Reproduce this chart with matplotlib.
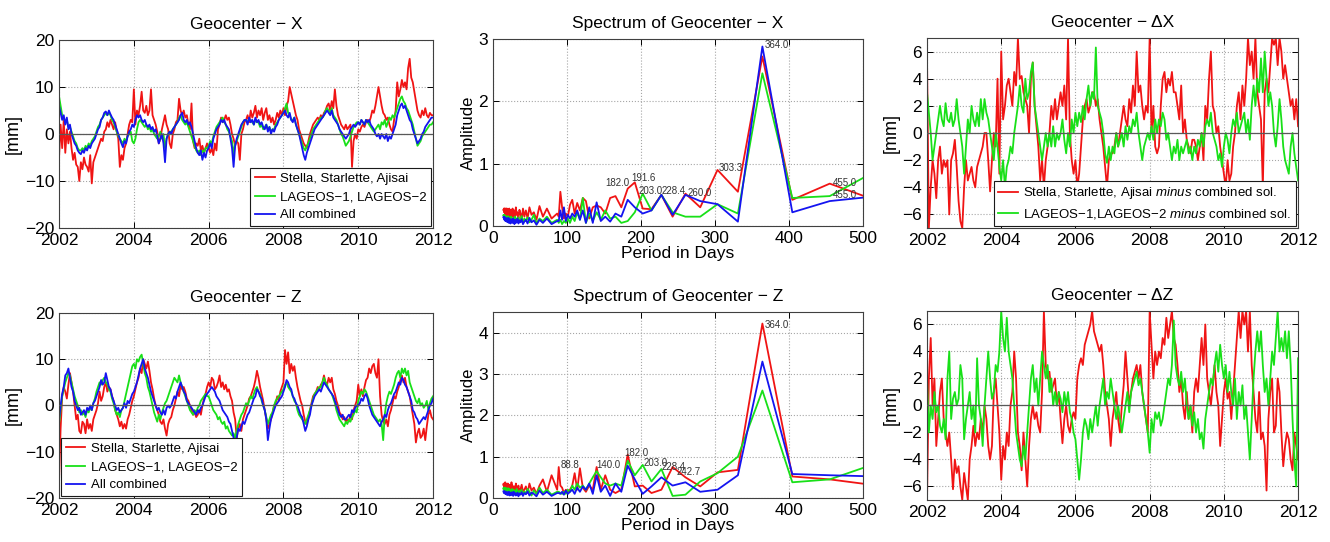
import numpy as np
import matplotlib
matplotlib.use("Agg")
import matplotlib.pyplot as plt

plt.rcParams['font.family'] = ['Liberation Sans', 'DejaVu Sans']
plt.rcParams['mathtext.fontset'] = 'custom'
plt.rcParams['mathtext.rm'] = 'Liberation Sans'
plt.rcParams['mathtext.it'] = 'Liberation Sans:italic'

RED, GREEN, BLUE = '#f01414', '#18e018', '#1414f0'

# %% geocenter X, 2 samples per month, 2002.0 .. 2012.0 [mm]
x_stella = [
    -5.0, 2.0, -3.0, 3.0, -4.0, 1.0, -2.0, 0.5, -3.0, -5.5, -4.0, -6.5, -7.0, -10.0, -6.0, -7.5, -5.0, -6.5, -7.0, -8.0, -4.5, -10.5, -6.0, -5.0,
    -4.0, -3.0, -2.0, -1.0, -1.5, 0.5, 1.0, 2.5, 1.5, 3.0, 2.0, 1.0, 2.5, 0.5, -1.0, -7.0, -4.5, -5.5, -3.0, -2.0, 0.0, 2.0, 3.0, 2.5,
    9.5, 2.0, 5.0, 4.0, 6.0, 9.0, 5.0, 4.5, 6.0, 4.0, 5.0, 9.5, 4.0, 3.0, 2.0, 0.5, -2.0, -1.0, 1.0, 2.5, 4.0, 2.0, 1.0, -2.0,
    -3.0, 0.0, 1.0, 2.5, 3.0, 7.5, 5.0, 4.0, 5.0, 3.5, 4.0, 2.0, 1.0, 6.5, -1.5, -3.0, -2.0, -2.5, -1.0, -3.5, -2.5, -4.0, -3.0, -2.0,
    -3.0, -4.0, -3.0, -4.5, -2.0, -3.5, 1.0, 2.0, 3.5, 2.5, 3.0, 4.0, 3.0, 3.5, 2.0, 0.0, -1.0, -2.5, -1.5, -2.0, -5.5, 0.0, 1.0, 2.5,
    3.0, 4.0, 2.5, 5.0, 3.5, 4.5, 6.0, 3.5, 5.0, 4.0, 5.5, 3.0, 4.5, 5.5, 3.0, 4.0, 2.5, 3.5, 2.0, 3.0, 4.5, 3.5, 5.0, 4.0,
    5.5, 4.0, 6.0, 7.0, 10.0, 8.5, 7.0, 5.5, 4.0, 3.0, 1.0, 0.0, -1.0, -2.0, -2.5, -3.0, -1.5, 0.0, 1.0, 2.0, 2.5, 3.0, 3.5, 3.0,
    4.0, 3.5, 4.5, 5.0, 6.0, 6.5, 5.0, 7.0, 5.5, 9.5, 6.0, 4.0, 3.0, 2.0, 1.5, 1.0, 2.0, 1.0, 1.5, 2.0, -7.0, -1.5, 0.0, -1.0,
    1.0, 0.5, 1.5, 2.0, 1.5, 2.5, 3.0, 2.5, 3.5, 5.0, 4.5, 6.0, 8.0, 10.0, 8.0, 6.0, 4.5, 4.0, 3.0, 3.5, 2.0, 1.0, 0.5, 3.0,
    5.0, 11.0, 8.0, 9.5, 11.5, 10.0, 11.0, 9.5, 14.0, 16.0, 12.0, 11.0, 9.0, 7.0, 5.0, 4.0, 3.5, 5.0, 4.0, 5.5, 4.0, 3.5, 4.5, 4.0,
    4.0]
x_lageos = [
    8.0, 6.0, 4.0, 3.5, 2.5, 3.0, 1.5, 1.5, 0.5, -0.5, -1.5, -2.0, -3.0, -3.5, -3.5, -3.0, -3.5, -2.5, -3.0, -2.0, -2.5, -1.5, -1.0, -0.5,
    0.5, 1.5, 2.0, 3.0, 3.5, 4.0, 4.5, 4.0, 4.5, 4.0, 3.0, 2.5, 1.5, 0.5, -0.5, -1.0, -1.5, -2.0, -1.0, -1.5, -0.5, 0.0, 0.5, -1.5,
    -2.0, -1.0, 1.0, 2.5, 3.0, 2.5, 2.0, 1.5, 2.0, 1.0, 1.5, 0.5, 1.0, 0.0, -0.5, -1.0, -0.5, 0.5, -1.0, 0.0, -3.0, -1.0, 0.0, 0.5,
    0.5, 1.0, 1.5, 2.0, 2.5, 3.5, 4.0, 3.0, 2.5, 2.0, 2.5, 1.5, 0.5, -0.5, -1.5, -2.5, -3.5, -4.0, -3.5, -4.5, -3.5, -4.0, -3.0, -3.0,
    -2.5, -1.5, -2.0, -0.5, 0.5, 1.5, 2.0, 2.5, 3.0, 3.5, 2.5, 2.0, 1.0, 0.5, -0.5, -1.5, -4.5, -2.0, -1.5, -0.5, 0.5, 1.5, 2.5, 3.0,
    3.0, 2.5, 3.0, 3.0, 2.5, 2.0, 3.0, 2.5, 2.5, 1.5, 2.0, 1.0, 1.5, 2.0, 1.0, 1.5, 0.5, 1.0, 1.0, 2.0, 2.5, 3.0, 3.5, 4.0,
    4.5, 5.5, 6.5, 4.5, 4.0, 3.0, 3.0, 3.5, 2.0, 1.0, 0.0, -1.0, -2.0, -3.0, -3.5, -2.5, -2.0, -1.0, 0.0, 1.0, 1.5, 2.0, 2.5, 3.0,
    3.5, 3.5, 4.0, 5.0, 5.5, 5.0, 4.5, 5.5, 4.0, 3.5, 3.0, 2.0, 1.0, 0.0, -0.5, -1.5, -2.5, -2.0, -1.5, -0.5, 0.5, 1.5, 2.0, 2.5,
    2.5, 2.0, 3.0, 2.5, 2.0, 3.0, 2.5, 2.0, 1.5, 1.0, 0.5, 1.0, 1.5, 2.0, 1.0, 2.5, 2.0, 3.0, 1.5, 2.5, 3.5, 3.0, 4.0, 3.5,
    4.5, 5.5, 6.5, 7.5, 8.0, 7.0, 6.5, 5.5, 5.0, 4.0, 3.0, 2.0, 0.5, -1.0, -2.5, -2.0, -1.5, -0.5, 0.0, 0.5, 1.0, 1.5, 2.0, 2.0,
    2.5]
x_combined = [
    6.0, 4.5, 3.0, 4.0, 2.0, 3.5, 1.0, 2.0, 0.0, -1.0, -2.0, -2.5, -3.5, -4.0, -4.3, -3.5, -4.0, -3.0, -3.5, -2.5, -3.0, -2.0, -1.5, -1.0,
    0.0, 1.0, 1.5, 3.0, 3.5, 4.5, 4.8, 4.0, 5.0, 4.2, 3.5, 3.0, 2.0, 1.0, 0.0, -1.0, -2.0, -2.8, -1.5, -2.0, -0.5, 0.5, 1.0, 2.0,
    1.5, 3.0, 4.0, 3.5, 4.0, 3.0, 2.5, 3.0, 2.0, 1.5, 2.0, 1.0, 1.5, 0.5, 1.0, -0.5, -2.0, -1.0, 0.0, -2.0, -6.0, -1.0, 0.0, 0.5,
    0.0, 1.0, 1.5, 2.0, 2.5, 3.0, 4.0, 4.5, 3.0, 2.5, 3.0, 2.0, 2.5, 1.5, 0.0, -1.5, -3.0, -4.0, -4.5, -3.5, -5.5, -4.0, -5.0, -3.5,
    -3.0, -2.0, -3.0, -1.0, 0.0, 1.0, 1.5, 2.0, 3.0, 2.5, 3.0, 2.0, 1.5, 1.0, -1.0, -3.0, -7.0, -2.5, -1.0, 0.0, 1.0, 2.0, 2.5, 3.0,
    3.0, 2.0, 3.5, 2.5, 3.0, 2.0, 3.5, 2.5, 3.0, 2.0, 2.5, 1.5, 1.0, 2.0, 0.5, 1.5, 0.0, 1.0, 0.5, 1.5, 2.0, 3.0, 3.5, 4.0,
    4.5, 5.0, 4.0, 3.5, 4.5, 3.0, 2.5, 3.5, 2.0, 1.0, 0.0, -1.5, -3.0, -4.5, -5.5, -4.0, -3.0, -2.0, -1.0, 0.0, 1.0, 1.5, 2.0, 2.5,
    3.0, 3.5, 4.0, 4.5, 5.0, 4.5, 4.0, 5.0, 3.5, 3.0, 2.5, 2.0, 1.0, 0.5, 0.0, -0.5, -1.0, -0.5, 0.0, 1.0, 1.5, 2.0, 1.5, 2.0,
    2.5, 2.0, 3.0, 2.5, 2.0, 3.0, 2.5, 3.0, 2.0, 1.5, 1.0, 0.0, -0.5, 0.0, -1.0, 0.0, -0.5, -1.0, 0.0, -1.5, -0.5, -1.0, 0.0, 1.0,
    2.0, 4.0, 5.0, 6.0, 6.5, 5.5, 6.0, 5.0, 4.0, 3.0, 2.5, 1.0, 0.0, -1.0, -2.0, -1.5, -1.0, 0.0, 0.5, 1.5, 2.0, 2.5, 3.0, 3.5,
    3.5]

# %% geocenter Z, 2 samples per month [mm]
z_stella = [
    -16.0, -5.0, 2.0, 4.0, 3.0, 1.5, 4.5, 7.0, 5.0, 3.0, 0.0, -3.0, -2.0, -5.5, -6.0, -3.5, -4.0, -6.0, -3.0, -5.0, -4.0, -5.5, -3.0, -2.0,
    -1.0, 0.5, 3.0, 1.0, 2.0, 4.0, 5.0, 3.0, 4.0, 3.5, 2.0, 1.0, -1.0, -2.0, -3.0, -4.5, -3.5, -5.0, -4.0, -5.0, -3.0, -2.0, -0.5, 1.0,
    2.0, 3.5, 5.0, 6.0, 8.0, 7.0, 10.0, 9.0, 8.0, 9.5, 7.5, 5.0, 3.5, 1.5, 0.0, -1.0, -2.0, -3.5, -4.0, -3.0, -5.0, -6.5, -4.0, -3.0,
    -2.5, -1.0, 0.0, 1.5, 3.0, 2.0, 4.5, 3.5, 4.0, 3.0, 1.5, 1.0, 0.0, -1.0, -2.0, -1.5, -2.5, -2.0, -1.0, -2.0, 0.0, 1.5, 2.5, 4.0,
    5.0, 4.0, 6.0, 5.5, 3.5, 4.0, 5.0, 6.5, 4.0, 5.0, 3.5, 4.5, 3.0, 3.5, 2.0, 1.0, -1.5, -3.0, -7.0, -5.0, -4.0, -5.5, -3.0, -2.0,
    -1.0, 0.0, 1.5, 2.0, 3.0, 4.0, 5.5, 7.5, 6.0, 4.0, 2.5, 1.0, -1.0, -3.0, -5.0, -4.0, -3.0, -1.5, 0.0, 0.5, 2.0, 1.0, 3.0, 4.0,
    5.0, 12.0, 9.0, 11.5, 7.0, 9.0, 7.5, 8.5, 6.0, 4.0, 2.5, 1.0, 0.0, -2.0, -3.5, -4.0, -2.5, -1.0, 0.5, 2.0, 2.5, 3.0, 4.0, 3.5,
    4.5, 5.0, 6.5, 5.0, 4.5, 6.0, 5.0, 6.0, 3.5, 2.5, 1.0, 0.0, -1.5, -2.0, -3.0, -2.5, -3.5, -3.0, -3.5, -2.0, -3.0, -1.0, 0.0, 1.0,
    4.5, 2.0, 3.5, 2.0, 4.0, 5.5, 6.0, 8.0, 7.0, 8.5, 9.0, 7.0, 6.0, 10.0, 2.0, -2.0, -3.5, -4.0, -3.0, -4.5, -2.0, -1.0, 0.5, 2.0,
    1.5, 3.0, 4.0, 5.5, 6.5, 5.0, 6.0, 4.0, 3.0, 2.0, 0.0, -2.0, -4.0, -8.0, -6.0, -5.0, -7.0, -6.5, -5.0, -7.5, -4.5, -2.0, -1.0, -2.5,
    -3.0]
z_lageos = [
    -4.0, -1.0, 2.0, 3.5, 5.0, 6.0, 7.0, 6.5, 5.0, 3.5, 2.0, 1.0, 0.0, -1.5, -1.0, -2.0, -1.5, -2.5, -1.0, -1.5, -0.5, -1.0, 0.5, 1.5,
    3.0, 4.0, 5.0, 4.5, 5.5, 6.0, 5.0, 4.5, 3.5, 3.0, 1.5, 0.5, -1.0, -2.0, -1.5, -2.5, -1.0, -0.5, 1.0, 2.5, 4.0, 5.5, 7.0, 8.5,
    9.0, 8.0, 10.0, 9.5, 10.5, 11.0, 9.0, 7.0, 6.0, 4.0, 3.0, 1.5, 0.0, -1.5, -2.5, -3.5, -2.0, -3.0, -1.5, -0.5, 0.5, 1.0, 2.0, 3.0,
    4.0, 5.0, 6.0, 5.5, 5.0, 6.5, 5.0, 4.0, 3.0, 2.0, 1.0, 0.0, -1.0, -1.5, -2.0, -1.0, -1.5, -0.5, 0.0, 1.0, 1.5, 2.0, 2.5, 2.0,
    2.0, 1.0, 0.0, -1.0, -1.5, -2.0, -3.0, -2.5, -3.5, -4.0, -3.5, -5.0, -4.5, -5.5, -6.0, -6.5, -6.0, -7.0, -5.5, -4.0, -3.0, -2.0, -1.5, -0.5,
    0.5, 0.0, 1.0, 2.0, 1.5, 2.5, 3.5, 4.0, 3.0, 2.5, 1.0, 0.0, -1.0, -2.5, -4.0, -3.0, -2.0, -1.5, 0.0, 1.0, 1.5, 2.0, 2.5, 3.0,
    3.5, 4.5, 5.0, 4.0, 3.5, 3.0, 2.0, 1.0, 0.5, -1.0, -2.0, -2.5, -3.0, -3.5, -4.0, -3.0, -2.0, -1.0, 0.0, 1.5, 2.5, 3.0, 3.5, 4.0,
    4.0, 5.0, 6.0, 5.0, 4.5, 3.5, 3.0, 2.5, 1.5, 0.5, -1.0, -2.0, -3.0, -3.5, -4.0, -4.5, -3.5, -4.0, -3.0, -3.5, -2.5, -2.0, -1.0, -1.5,
    1.0, 2.0, 3.0, 2.5, 3.5, 3.0, 2.0, 1.0, 0.0, -1.0, -2.0, -2.5, -3.0, -3.5, -3.0, -4.0, -7.5, -2.0, 0.5, 2.0, 3.0, 2.5, 3.5, 4.5,
    6.0, 7.0, 7.5, 6.0, 8.0, 7.0, 8.0, 6.5, 7.5, 5.0, 4.0, 3.0, 2.0, 1.0, 0.5, 1.5, 0.0, 0.5, -0.5, 0.0, 1.0, -1.0, 0.5, 1.5,
    2.0]
z_combined = [
    -3.0, 0.0, 2.5, 4.0, 6.5, 7.0, 8.0, 6.0, 4.0, 3.0, 1.0, 0.0, -1.0, -0.5, -2.0, -1.5, -1.0, -2.0, -0.5, -1.0, 0.0, -1.0, 0.5, 1.0,
    2.0, 3.0, 4.0, 5.5, 4.5, 5.0, 7.0, 5.5, 4.0, 3.5, 2.0, 1.0, 0.0, -1.0, -0.5, -1.5, -1.0, -0.5, 0.5, -0.5, 1.0, 0.5, 1.5, 2.5,
    3.0, 4.0, 5.0, 6.5, 8.0, 9.0, 10.0, 8.0, 7.0, 6.0, 4.5, 3.0, 2.0, 1.0, 0.0, -1.0, -0.5, -1.5, -2.0, -1.0, -2.0, -0.5, 0.0, -0.5,
    0.0, 1.0, 2.0, 1.5, 3.0, 4.0, 5.0, 4.0, 3.0, 2.5, 1.0, 0.5, 0.0, -0.5, -1.0, -1.5, -2.0, -1.0, -1.5, -0.5, 0.0, 1.0, 2.0, 2.5,
    3.0, 3.5, 4.0, 3.5, 3.0, 2.0, 1.5, 1.0, 0.0, -1.0, -1.5, -2.0, -2.5, -3.5, -4.0, -5.5, -7.0, -8.5, -7.0, -5.0, -5.5, -4.5, -3.5, -4.0,
    -3.0, -2.0, -1.5, -0.5, 0.5, 1.5, 2.0, 3.5, 3.0, 2.0, 1.5, 0.0, -1.0, -3.0, -7.5, -5.0, -3.0, -2.0, -1.0, 0.0, 0.5, 1.0, 1.5, 2.0,
    3.0, 4.0, 5.5, 5.0, 4.0, 3.5, 2.0, 1.5, 0.5, 0.0, -1.0, -2.0, -2.5, -4.0, -5.5, -4.5, -3.0, -2.0, 0.0, 1.0, 2.0, 2.5, 3.0, 3.5,
    3.0, 4.0, 5.0, 4.5, 4.0, 3.5, 3.0, 2.5, 2.0, 1.0, 0.0, -1.0, -2.0, -2.5, -2.0, -3.0, -3.0, -2.5, -2.0, -2.5, -1.0, -1.5, -0.5, 0.0,
    0.0, 0.5, 1.5, 1.0, 2.0, 2.5, 1.5, 0.0, -1.0, -2.0, -2.5, -3.0, -3.5, -4.0, -4.5, -3.5, -3.0, -2.0, -2.5, -1.0, 0.0, 0.5, 1.5, 2.5,
    3.0, 4.0, 5.0, 4.5, 6.0, 5.5, 4.5, 4.0, 3.0, 2.0, 1.0, -1.0, -1.5, -2.5, -3.0, -4.0, -3.5, -3.0, -2.5, -3.0, -2.0, -1.0, 0.0, 0.5,
    1.5]

# %% differences to the combined solution, 20 samples per year [mm]
dx_stella = [
    5.5, -7.0, -4.0, -2.0, -3.0, -4.8, -2.0, -1.0, -3.0, -2.0, -2.5, -2.0, -6.0, -2.0, -1.5, -0.5, -2.5, -5.0, -6.5, -7.0,
    -4.0, -2.0, -3.5, -3.0, -2.5, -3.5, -4.0, -2.5, -2.0, -1.5, -1.0, 0.0, 0.0, -2.0, -4.3, -2.0, 0.0, -1.0, 4.0, -3.0,
    6.0, 1.0, 2.0, 3.5, 4.0, 3.0, 2.0, 4.5, 3.5, 7.0, 4.0, 4.2, 3.0, 2.5, 2.0, 0.0, 4.0, 5.2, 2.0, 0.5,
    -1.0, -3.5, -2.0, -4.0, -2.0, -1.0, 0.0, 2.0, 1.0, 2.5, 1.0, 2.0, 3.0, 2.0, 3.5, 1.0, 7.0, 0.0, -2.0, -3.0,
    -2.0, -4.0, -3.0, -1.0, 1.0, 2.0, 2.5, 1.5, 2.0, 3.0, 3.0, 2.0, 2.5, 1.0, 0.0, -1.0, -2.5, -4.0, -2.0, -1.5,
    -1.5, -1.0, 0.0, -1.0, 0.0, 1.0, 2.0, 1.0, 0.5, 2.5, 1.5, 3.5, 2.0, 6.0, 3.0, 3.5, 2.0, 1.0, 2.0, 1.5,
    7.0, 0.0, 2.0, -1.0, -1.5, -1.0, 2.0, 4.0, 4.5, 3.0, 4.0, 3.5, 4.5, 3.0, 3.0, 2.0, 1.0, 3.5, 0.0, 1.0,
    -0.5, -1.0, -1.5, -0.5, -0.5, -1.0, -2.0, -1.0, 0.0, -2.0, 2.0, 1.0, 4.0, 6.0, 2.0, 1.5, 0.0, 0.5, -1.0, -2.0,
    -3.0, -4.0, -2.0, -3.5, -3.0, -1.0, 0.0, 2.0, 3.0, 1.0, 3.5, 2.0, 4.0, 7.0, 5.0, 6.0, 4.0, 7.0, 3.0, 2.0,
    1.0, -4.0, 3.0, 4.0, 3.0, 5.0, 7.0, 6.5, 7.0, 5.0, 7.0, 6.0, 4.0, 5.0, 4.0, 3.0, 2.0, 2.5, 1.0, 2.5,
    0.5]
dx_lageos = [
    3.0, 1.5, 0.0, -2.0, -1.0, 0.0, 1.0, 2.0, 1.0, 0.5, 2.2, 1.0, 0.8, 1.5, 0.5, 1.0, 2.5, 1.0, 0.0, -1.0,
    -3.0, -1.0, 1.0, 0.0, 2.0, 1.0, 0.5, 1.5, 0.5, 2.5, 1.0, 2.5, 1.5, 1.0, 0.0, -1.0, -2.0, 0.0, -1.0, -2.5,
    -3.5, -2.0, -4.0, -2.5, -2.0, -1.0, -1.5, 0.0, 1.0, 2.0, 3.5, 2.0, 1.5, 4.0, 2.5, 3.0, 4.5, 5.2, 2.0, 1.0,
    0.0, -1.0, -2.0, -1.0, 0.0, -1.0, 0.0, -1.0, 0.5, -1.0, 0.0, -0.5, 0.0, 1.0, -0.5, -1.5, 0.0, -1.0, 1.0, 0.0,
    1.5, 0.5, 1.5, 0.8, 2.0, 1.0, 2.5, 3.5, 2.0, 3.0, 2.5, 6.3, 2.0, 1.5, 1.0, 0.0, -1.5, -2.2, -1.0, -2.0,
    -1.0, -1.5, 0.0, -1.0, -0.5, 0.0, -1.0, 0.5, -0.5, 0.5, 0.0, 1.0, 0.5, 1.5, 0.0, -1.0, -2.0, -1.0, -0.5, 0.0,
    -0.5, 0.5, -0.5, 1.0, 0.0, 1.0, 0.5, 1.5, 1.0, -0.5, 0.0, -1.0, -2.0, -1.0, -1.5, -0.5, -2.0, -1.0, -1.5, -1.0,
    -0.5, -1.5, -1.0, -2.0, -1.0, -1.5, -0.5, -1.0, 0.0, -1.0, 0.5, 1.0, 0.5, 1.5, 0.0, -0.5, -1.0, -2.0, -1.5, -2.5,
    -1.0, 0.0, -0.5, -1.5, 0.0, 1.0, 0.5, 1.5, 0.0, 0.5, 1.0, 1.5, 0.0, 1.0, -0.5, 2.0, 3.5, 2.0, 4.0, 3.0,
    5.5, 3.0, 6.0, 4.0, 2.0, 3.0, 2.0, 0.0, -1.0, 0.5, 2.5, 1.0, -1.0, -2.0, -2.5, -3.0, -1.0, 0.0, -1.5, -2.5,
    -3.5]
dz_stella = [
    -7.0, 2.0, 5.0, 0.0, 2.0, -3.0, -1.0, 1.0, 2.0, -1.0, -2.0, -3.0, -2.0, -4.0, -6.2, -4.0, -5.0, -4.5, -6.0, -7.0,
    -5.0, -6.0, -7.0, -4.0, -3.0, -1.5, -3.0, -2.0, -2.5, -1.0, -2.0, 0.0, -1.0, -3.0, -4.0, -3.0, 1.0, 2.0, 0.0, -2.0,
    -5.5, -3.0, -4.0, -2.0, -3.0, 0.0, 1.0, 4.0, 2.0, -2.0, -3.0, -4.8, -2.0, -4.0, -6.0, -3.0, -1.0, 0.0, -1.0, -0.5,
    -1.5, -2.0, 1.0, 7.0, 3.0, 2.0, 2.5, 1.0, 1.5, 2.0, 0.0, 1.0, -1.0, -2.8, -1.0, 0.0, -1.5, -2.0, -1.0, -0.5,
    -1.0, 2.0, 3.0, 3.5, 3.0, 4.5, 5.0, 5.5, 6.0, 7.0, 5.5, 5.0, 4.5, 4.0, 4.5, 3.0, 1.0, 0.0, -1.0, -3.0,
    -1.0, 0.0, 1.0, -1.0, -2.0, 0.0, 1.5, 4.0, 2.0, 0.0, 1.0, 2.0, 2.5, 3.0, 2.0, 3.0, 1.0, 0.0, -1.0, -2.0,
    7.0, 4.5, 2.0, 4.0, 3.0, 4.0, 3.5, 5.0, 4.5, 6.5, 5.0, 6.0, 7.0, 5.0, 4.5, 3.0, 1.0, 2.0, 0.0, -1.0,
    1.0, -1.0, 0.0, -2.0, 1.0, 2.0, 1.0, 3.0, 5.0, 3.0, 6.0, 2.0, 1.0, 0.0, 1.5, 3.0, 1.0, 0.0, -3.0, -1.0,
    1.0, 2.0, 0.5, 1.0, -1.0, 1.0, 3.0, 5.0, 7.0, 5.0, 7.0, 6.0, 7.0, 4.0, 7.0, 3.0, 1.0, -1.0, -2.0, 1.0,
    -2.5, -2.0, -3.0, -6.3, -1.0, 1.0, 2.0, -2.0, -1.5, 2.0, 1.0, -2.0, -4.5, -3.0, -2.0, -2.5, -4.0, -4.8, -2.0, -3.0,
    -4.0]
dz_lageos = [
    2.0, -2.0, 0.0, -1.0, 1.0, -0.5, 0.0, -1.5, -2.0, -1.0, -2.5, 2.0, 4.0, -1.0, 0.5, 1.0, 0.0, 0.5, 3.0, 2.0,
    -2.5, -1.0, 0.0, 1.0, -1.0, 0.0, -2.0, 3.5, 0.0, -1.0, -3.0, 0.0, 2.0, 4.0, 2.0, 0.5, 1.0, 3.0, 2.5, 4.0,
    7.0, 5.0, 4.0, 6.5, 4.0, 3.0, 2.0, 0.0, -2.0, -3.0, -4.0, -4.5, -3.0, -4.0, -2.0, 0.0, 2.0, 3.0, 1.0, 2.0,
    0.0, 2.0, 4.0, 3.0, 2.0, 3.0, 1.0, 2.0, 0.0, 1.0, 0.0, 1.0, 0.5, -0.5, 1.0, 0.0, 1.0, -0.5, -1.0, -2.0,
    -2.5, -4.0, -5.5, -4.0, -2.0, -1.0, -1.5, -2.5, -1.0, -2.0, -1.0, 0.0, -1.5, 0.0, 1.0, 2.0, 0.0, 1.0, 0.5, 2.0,
    1.0, 0.0, -1.0, 0.0, -1.0, -2.0, -1.0, 0.0, 1.0, -0.5, 1.0, 1.5, 2.0, 2.5, 1.5, 2.0, 1.0, 0.0, -1.0, -2.0,
    -3.5, -1.0, -2.0, -0.5, -1.0, -0.5, -1.5, -1.0, 0.0, 1.0, 2.0, 1.5, 3.0, 6.3, 3.0, 2.0, 1.5, 2.5, 1.0, 2.0,
    0.0, -1.0, 0.0, -1.5, -0.5, -2.0, -1.0, -2.5, -2.0, -3.2, -1.0, 0.0, 1.0, 2.0, 1.5, 3.0, 4.0, 2.5, 4.5, 3.0,
    2.0, 3.0, 1.0, 2.5, 1.0, 0.0, 2.0, -1.0, 1.0, 0.0, 1.5, -1.0, 0.0, -2.0, -4.0, -1.0, 2.0, 4.0, 5.5, 4.0,
    5.5, 3.0, 1.0, 2.0, 0.0, 2.0, 4.0, 3.0, 5.0, 7.0, 4.0, 5.0, 4.0, 5.5, 3.5, 5.5, 3.0, -1.0, -4.0, -6.0,
    3.5]

# %% amplitude spectra, harmonics of a 3640 day record
record_days = 3640.0
harm_low = list(range(7, 42))          # periods 520 .. 88.8 days
harm_high = list(range(42, 259, 4))    # periods 86.7 .. 14.1 days

spx_stella = [0.40, 0.68, 0.42, 2.72, 0.55, 0.90, 0.30, 0.52, 0.15, 0.50,
              0.27, 0.28, 0.70, 0.60, 0.30, 0.48, 0.45, 0.20, 0.30, 0.33,
              0.30, 0.12, 0.40, 0.45, 0.25, 0.37, 0.20, 0.42, 0.34, 0.15,
              0.20, 0.12, 0.30, 0.55, 0.15,
              0.20, 0.12, 0.28, 0.15, 0.32, 0.10, 0.22, 0.18, 0.30, 0.12,
              0.25, 0.15, 0.28, 0.10, 0.20, 0.26, 0.12, 0.22, 0.18, 0.30,
              0.14, 0.25, 0.10, 0.22, 0.28, 0.15, 0.20, 0.26, 0.12, 0.24,
              0.18, 0.28, 0.15, 0.22, 0.27, 0.14, 0.25, 0.20, 0.28, 0.16,
              0.24, 0.28, 0.18, 0.26, 0.22, 0.28, 0.20, 0.27, 0.24, 0.28,
              0.22, 0.28, 0.25, 0.27, 0.26]
spx_lageos = [0.90, 0.48, 0.45, 2.45, 0.20, 0.35, 0.15, 0.15, 0.22, 0.50,
              0.25, 0.52, 0.22, 0.08, 0.05, 0.15, 0.12, 0.25, 0.10, 0.22,
              0.08, 0.20, 0.05, 0.45, 0.10, 0.22, 0.08, 0.15, 0.05, 0.12,
              0.05, 0.08, 0.03, 0.10, 0.05,
              0.10, 0.05, 0.15, 0.08, 0.12, 0.04, 0.18, 0.10, 0.06, 0.14,
              0.08, 0.12, 0.05, 0.16, 0.10, 0.07, 0.14, 0.09, 0.12, 0.06,
              0.15, 0.10, 0.08, 0.13, 0.06, 0.12, 0.09, 0.15, 0.07, 0.11,
              0.14, 0.08, 0.12, 0.10, 0.16, 0.09, 0.13, 0.11, 0.15, 0.10,
              0.14, 0.12, 0.16, 0.11, 0.15, 0.13, 0.17, 0.12, 0.16, 0.14,
              0.17, 0.15, 0.18, 0.16, 0.17]
spx_combined = [0.48, 0.40, 0.22, 2.88, 0.07, 0.35, 0.40, 0.50, 0.18, 0.50,
                0.25, 0.20, 0.30, 0.42, 0.15, 0.20, 0.07, 0.15, 0.08, 0.38,
                0.05, 0.30, 0.05, 0.25, 0.10, 0.25, 0.15, 0.20, 0.12, 0.18,
                0.08, 0.30, 0.10, 0.25, 0.08,
                0.08, 0.03, 0.12, 0.05, 0.10, 0.02, 0.09, 0.06, 0.13, 0.04,
                0.10, 0.07, 0.03, 0.11, 0.06, 0.09, 0.04, 0.12, 0.07, 0.05,
                0.10, 0.03, 0.08, 0.12, 0.05, 0.09, 0.06, 0.11, 0.04, 0.10,
                0.07, 0.12, 0.05, 0.09, 0.13, 0.06, 0.10, 0.08, 0.12, 0.07,
                0.11, 0.09, 0.13, 0.08, 0.12, 0.10, 0.14, 0.09, 0.13, 0.11,
                0.14, 0.12, 0.15, 0.13, 0.14]

spz_stella = [0.30, 0.45, 0.52, 4.22, 0.68, 0.62, 0.28, 0.50, 0.75, 0.20,
              0.12, 0.30, 0.28, 1.05, 0.20, 0.12, 0.20, 0.55, 0.20, 0.75,
              0.20, 0.30, 0.15, 0.25, 0.72, 0.20, 0.60, 0.30, 0.20, 0.15,
              0.20, 0.12, 0.25, 0.30, 0.75,
              0.20, 0.55, 0.15, 0.45, 0.30, 0.10, 0.25, 0.18, 0.35, 0.12,
              0.28, 0.20, 0.15, 0.32, 0.22, 0.12, 0.30, 0.18, 0.25, 0.35,
              0.15, 0.28, 0.22, 0.10, 0.30, 0.20, 0.38, 0.15, 0.25, 0.30,
              0.18, 0.32, 0.22, 0.28, 0.15, 0.35, 0.25, 0.20, 0.30, 0.22,
              0.28, 0.35, 0.20, 0.30, 0.25, 0.38, 0.22, 0.30, 0.35, 0.28,
              0.32, 0.25, 0.35, 0.30, 0.33]
spz_lageos = [0.85, 0.45, 0.38, 2.60, 1.00, 0.60, 0.40, 0.08, 0.05, 0.70,
              0.40, 0.80, 0.55, 0.90, 0.30, 0.35, 0.30, 0.35, 0.50, 0.65,
              0.50, 0.35, 0.20, 0.30, 0.25, 0.35, 0.20, 0.30, 0.15, 0.20,
              0.10, 0.15, 0.10, 0.12, 0.15,
              0.15, 0.08, 0.20, 0.12, 0.25, 0.10, 0.18, 0.06, 0.15, 0.22,
              0.10, 0.16, 0.08, 0.20, 0.12, 0.18, 0.07, 0.15, 0.22, 0.10,
              0.17, 0.12, 0.20, 0.08, 0.16, 0.22, 0.12, 0.18, 0.10, 0.20,
              0.15, 0.22, 0.12, 0.18, 0.24, 0.14, 0.20, 0.16, 0.22, 0.18,
              0.20, 0.24, 0.16, 0.22, 0.20, 0.25, 0.18, 0.23, 0.21, 0.25,
              0.22, 0.24, 0.20, 0.25, 0.23]
spz_combined = [0.52, 0.55, 0.58, 3.30, 0.55, 0.20, 0.15, 0.38, 0.30, 0.50,
                0.28, 0.10, 0.45, 0.78, 0.15, 0.35, 0.05, 0.30, 0.15, 0.55,
                0.10, 0.35, 0.20, 0.28, 0.15, 0.25, 0.10, 0.20, 0.15, 0.10,
                0.18, 0.08, 0.15, 0.10, 0.12,
                0.12, 0.05, 0.15, 0.08, 0.18, 0.04, 0.10, 0.13, 0.06, 0.16,
                0.09, 0.12, 0.05, 0.14, 0.08, 0.11, 0.04, 0.13, 0.09, 0.06,
                0.12, 0.08, 0.15, 0.05, 0.10, 0.14, 0.07, 0.12, 0.09, 0.13,
                0.06, 0.11, 0.15, 0.08, 0.12, 0.10, 0.14, 0.07, 0.12, 0.10,
                0.13, 0.09, 0.15, 0.11, 0.14, 0.10, 0.16, 0.12, 0.15, 0.13,
                0.16, 0.12, 0.15, 0.14, 0.16]

# peak labels: text, period, amplitude, alignment
peaks_x = [("182.0", 185, 0.69, 'right'), ("191.6", 187, 0.77, 'left'),
           ("203.0", 197, 0.56, 'left'), ("228.4", 228, 0.56, 'left'),
           ("260.0", 263, 0.53, 'left'), ("303.3", 305, 0.93, 'left'),
           ("364.0", 367, 2.90, 'left'), ("455.0", 459, 0.69, 'left'),
           ("455.0", 459, 0.49, 'left')]
peaks_z = [("88.8", 91, 0.80, 'left'), ("140.0", 139, 0.80, 'left'),
           ("182.0", 178, 1.10, 'left'), ("203.0", 203, 0.85, 'left'),
           ("228.4", 228, 0.75, 'left'), ("242.7", 248, 0.63, 'left'),
           ("364.0", 367, 4.19, 'left')]

lab_stella = 'Stella, Starlette, Ajisai'
lab_lageos = 'LAGEOS\u22121, LAGEOS\u22122'
lab_comb = 'All combined'


def style(ax):
    ax.grid(True, linestyle=':', color='0.65', linewidth=0.8)
    ax.tick_params(direction='in', top=True, right=True, labelsize=12.5, length=4, width=0.7)
    for s in ax.spines.values():
        s.set_linewidth(0.8)
        s.set_color('0.25')


def series_panel(ax, curves, title, ylim, yticks):
    for vals, col, lab in curves:
        ax.plot(np.linspace(2002, 2012, len(vals)), vals, color=col, lw=1.3, label=lab)
    ax.axhline(0, color='0.35', lw=0.9, zorder=3)
    ax.set_xlim(2002, 2012)
    ax.set_xticks(range(2002, 2013, 2))
    ax.set_ylim(*ylim)
    ax.set_yticks(yticks)
    ax.set_ylabel('[mm]', fontsize=13, labelpad=2)
    ax.set_title(title, fontsize=12.5, pad=8)
    style(ax)


def spectrum_panel(ax, curves, title, ylim, yticks, peaks):
    harm = np.array(harm_low + harm_high)
    periods = record_days / harm
    for amps, col in curves:
        ax.plot(periods, amps, color=col, lw=1.3)
    ax.set_xlim(0, 500)
    ax.set_xticks(range(0, 501, 100))
    ax.set_ylim(*ylim)
    ax.set_yticks(yticks)
    ax.set_xlabel('Period in Days', fontsize=12.5, labelpad=0)
    ax.set_ylabel('Amplitude', fontsize=12, labelpad=2)
    ax.set_title(title, fontsize=12.5, pad=8)
    for txt, px, amp, ha in peaks:
        ax.text(px, amp, txt, fontsize=7, ha=ha, va='center', color='0.2')
    style(ax)


def legend(ax, loc):
    leg = ax.legend(loc=loc, fontsize=9.5, borderaxespad=0.15, handlelength=1.5,
                    handletextpad=0.4, labelspacing=0.45, borderpad=0.35,
                    fancybox=False, framealpha=1)
    leg.get_frame().set_edgecolor('0.1')
    leg.get_frame().set_linewidth(0.8)
    leg.set_zorder(5)


fig = plt.figure(figsize=(13.3, 5.42), dpi=100)

ax1 = fig.add_axes([0.0444, 0.5793, 0.2812, 0.3469])
series_panel(ax1, [(x_stella, RED, lab_stella), (x_lageos, GREEN, lab_lageos),
                   (x_combined, BLUE, lab_comb)],
             'Geocenter \u2212 X', (-20, 20), range(-20, 21, 10))
legend(ax1, 'lower right')

ax2 = fig.add_axes([0.3707, 0.583, 0.2782, 0.345])
spectrum_panel(ax2, [(spx_stella, RED), (spx_lageos, GREEN), (spx_combined, BLUE)],
               'Spectrum of Geocenter \u2212 X', (0, 3), range(0, 4), peaks_x)

ax3 = fig.add_axes([0.697, 0.5793, 0.279, 0.3506])
series_panel(ax3, [(dx_stella, RED, lab_stella + r' $\it{minus}$ combined sol.'),
                   (dx_lageos, GREEN, 'LAGEOS\u22121,LAGEOS\u22122' + r' $\it{minus}$ combined sol.')],
             'Geocenter \u2212 \u0394X', (-7, 7), range(-6, 7, 2))
legend(ax3, 'lower right')

ax4 = fig.add_axes([0.0444, 0.0812, 0.2812, 0.3413])
series_panel(ax4, [(z_stella, RED, lab_stella), (z_lageos, GREEN, lab_lageos),
                   (z_combined, BLUE, lab_comb)],
             'Geocenter \u2212 Z', (-20, 20), range(-20, 21, 10))
legend(ax4, 'lower left')

ax5 = fig.add_axes([0.3707, 0.0812, 0.2782, 0.3432])
spectrum_panel(ax5, [(spz_stella, RED), (spz_lageos, GREEN), (spz_combined, BLUE)],
               'Spectrum of Geocenter \u2212 Z', (0, 4.5), range(0, 5), peaks_z)

ax6 = fig.add_axes([0.697, 0.0775, 0.279, 0.3487])
series_panel(ax6, [(dz_stella, RED, None), (dz_lageos, GREEN, None)],
             'Geocenter \u2212 \u0394Z', (-7, 7), range(-6, 7, 2))

fig.savefig('out.png', dpi=100, facecolor='white')
